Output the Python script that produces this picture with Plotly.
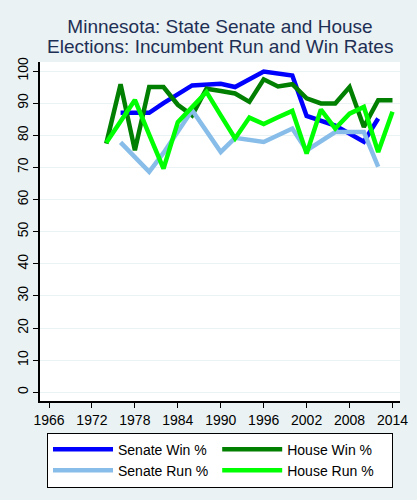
import plotly.graph_objects as go

senate_years = [1976, 1980, 1982, 1986, 1990, 1992, 1996, 2000, 2002, 2006, 2010, 2012]
senate_win = [87.0, 87.0, 90.0, 95.5, 96.0, 95.0, 99.8, 98.6, 86.0, 83.0, 78.0, 85.2]
senate_run = [77.8, 68.6, 74.5, 87.8, 74.8, 79.2, 77.9, 82.1, 75.3, 81.0, 81.0, 70.2]

house_years = [1974, 1976, 1978, 1980, 1982, 1984, 1986, 1988, 1990, 1992, 1994,
               1996, 1998, 2000, 2002, 2004, 2006, 2008, 2010, 2012, 2014]
house_win = [77.4, 95.9, 75.3, 95.0, 95.0, 89.5, 86.2, 94.5, 93.8, 93.0, 90.4,
             97.4, 95.2, 95.9, 91.5, 89.9, 89.9, 95.0, 82.6, 90.9, 90.9]
house_run = [77.7, 84.5, 91.0, 80.2, 69.6, 84.1, 89.0, 93.5, 86.2, 79.0, 85.5,
             83.5, 85.6, 87.6, 74.3, 88.0, 82.1, 86.7, 88.8, 74.8, 87.3]

x_ticks = [1966, 1972, 1978, 1984, 1990, 1996, 2002, 2008, 2014]
y_ticks = [0, 10, 20, 30, 40, 50, 60, 70, 80, 90, 100]

title_line1 = "Minnesota: State Senate and House"
title_line2 = "Elections: Incumbent Run and Win Rates"

series = [
    ("Senate Win %", senate_years, senate_win, "#0000ff"),
    ("House Win %", house_years, house_win, "#007f00"),
    ("Senate Run %", senate_years, senate_run, "#87bde8"),
    ("House Run %", house_years, house_run, "#00ff00"),
]

fig = go.Figure()
for name, xs, ys, color in series:
    fig.add_trace(go.Scatter(x=xs, y=ys, mode="lines", name=name,
                             line=dict(color=color, width=4.5)))

bg = "#eaf2f3"
title_color = "#1e2f55"
title_size = 19

fig.update_layout(
    width=417, height=500,
    paper_bgcolor=bg, plot_bgcolor="white",
    margin=dict(l=40, r=17, t=62, b=99, autoexpand=False),
    font=dict(family="Liberation Sans, Arial, sans-serif", size=14, color="black"),
    title=dict(text=title_line1, xref="paper", x=0.5, xanchor="center",
               yref="container", y=1 - 26.5 / 500, yanchor="middle",
               font=dict(size=title_size, color=title_color)),
    xaxis=dict(range=[1964.74, 2015.05], tickmode="array", tickvals=x_ticks,
               showgrid=False, zeroline=False, showline=True, linecolor="black",
               linewidth=1.5, ticks="outside", ticklen=5, tickcolor="black",
               tickfont=dict(size=14)),
    yaxis=dict(range=[-2.7, 102.8], tickmode="array", tickvals=y_ticks,
               showgrid=True, gridcolor=bg, gridwidth=1, zeroline=False,
               showline=True, linecolor="black", linewidth=1.5,
               ticks="outside", ticklen=5, tickcolor="black", tickangle=-90,
               tickfont=dict(size=14)),
    legend=dict(orientation="h", x=0.5, xanchor="center", y=-0.093, yanchor="top",
                bgcolor="white", bordercolor="black", borderwidth=1,
                entrywidth=0.47, entrywidthmode="fraction", itemwidth=60,
                tracegroupgap=0, font=dict(size=14)),
    showlegend=True,
)

fig.add_annotation(text=title_line2, xref="paper", yref="paper",
                   x=0.5, xanchor="center", y=1 + (62 - 46.5) / 339, yanchor="middle",
                   showarrow=False, font=dict(size=title_size, color=title_color))

fig.write_html(
    "out.html",
    config={"displayModeBar": False},
    post_script="document.body.style.margin='0';document.body.style.background='%s';" % bg,
)
